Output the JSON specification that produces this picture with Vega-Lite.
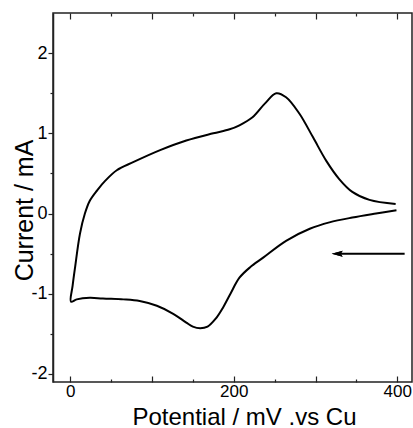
{
  "$schema": "https://vega.github.io/schema/vega-lite/v6.json",
  "width": 359,
  "height": 369,
  "autosize": {"type": "none"},
  "padding": {"left": 53, "top": 13, "right": 1, "bottom": 46},
  "background": "white",
  "config": {
    "view": {"stroke": "#222", "strokeWidth": 1.5},
    "axis": {
      "labelFont": "Liberation Sans",
      "titleFont": "Liberation Sans",
      "labelColor": "black",
      "titleColor": "black",
      "domainColor": "#222",
      "domainWidth": 1.5,
      "tickColor": "#222",
      "tickWidth": 1.2,
      "grid": false,
      "titleFontWeight": "normal"
    }
  },
  "datasets": {
    "cv": [
      {"k": 1, "E": 399, "I": 0.04},
      {"k": 2, "E": 374, "I": 0.0},
      {"k": 3, "E": 345, "I": -0.05},
      {"k": 4, "E": 317, "I": -0.11},
      {"k": 5, "E": 293, "I": -0.19},
      {"k": 6, "E": 264, "I": -0.34},
      {"k": 7, "E": 236, "I": -0.55},
      {"k": 8, "E": 220, "I": -0.67},
      {"k": 9, "E": 207, "I": -0.8},
      {"k": 10, "E": 196, "I": -1.0},
      {"k": 11, "E": 187, "I": -1.17},
      {"k": 12, "E": 178, "I": -1.31},
      {"k": 13, "E": 168, "I": -1.41},
      {"k": 14, "E": 159, "I": -1.43},
      {"k": 15, "E": 150, "I": -1.41},
      {"k": 16, "E": 142, "I": -1.36},
      {"k": 17, "E": 126, "I": -1.25},
      {"k": 18, "E": 106, "I": -1.15},
      {"k": 19, "E": 85, "I": -1.09},
      {"k": 20, "E": 65, "I": -1.07},
      {"k": 21, "E": 40, "I": -1.06},
      {"k": 22, "E": 24, "I": -1.05},
      {"k": 23, "E": 8, "I": -1.07},
      {"k": 24, "E": 1, "I": -1.1},
      {"k": 25, "E": 3, "I": -0.9},
      {"k": 26, "E": 6, "I": -0.67},
      {"k": 27, "E": 12, "I": -0.25},
      {"k": 28, "E": 18, "I": 0.0},
      {"k": 29, "E": 24, "I": 0.16},
      {"k": 30, "E": 33, "I": 0.29},
      {"k": 31, "E": 43, "I": 0.41},
      {"k": 32, "E": 57, "I": 0.54},
      {"k": 33, "E": 77, "I": 0.64},
      {"k": 34, "E": 110, "I": 0.79},
      {"k": 35, "E": 142, "I": 0.91},
      {"k": 36, "E": 175, "I": 1.0},
      {"k": 37, "E": 195, "I": 1.05},
      {"k": 38, "E": 207, "I": 1.1},
      {"k": 39, "E": 223, "I": 1.2},
      {"k": 40, "E": 238, "I": 1.37},
      {"k": 41, "E": 252, "I": 1.5},
      {"k": 42, "E": 264, "I": 1.45},
      {"k": 43, "E": 280, "I": 1.25},
      {"k": 44, "E": 297, "I": 0.95},
      {"k": 45, "E": 313, "I": 0.66},
      {"k": 46, "E": 329, "I": 0.43},
      {"k": 47, "E": 345, "I": 0.27},
      {"k": 48, "E": 366, "I": 0.17},
      {"k": 49, "E": 398, "I": 0.12}
    ],
    "arrow": [{"x0": 409, "x1": 328, "xh": 326.5, "y": -0.5}]
  },
  "layer": [
    {
      "data": {"name": "cv"},
      "mark": {"type": "line", "stroke": "black", "strokeWidth": 2, "interpolate": "catmull-rom"},
      "encoding": {
        "x": {
          "field": "E",
          "type": "quantitative",
          "scale": {"domain": [-21, 418], "nice": false, "zero": false},
          "axis": {
            "orient": "bottom",
            "title": "Potential / mV .vs Cu",
            "values": [0, 100, 200, 300, 400],
            "labelExpr": "datum.value % 200 === 0 ? datum.label : ''",
            "labelFontSize": 17,
            "labelFlush": false,
            "labelOverlap": false,
            "labelPadding": 1,
            "domain": false,
            "offset": -6,
            "tickSize": 6,
            "titleFontSize": 24,
            "titleX": 191,
            "titleY": 48,
            "titleBaseline": "alphabetic",
            "titleAnchor": "middle"
          }
        },
        "y": {
          "field": "I",
          "type": "quantitative",
          "scale": {"domain": [-2.1, 2.5], "nice": false, "zero": false},
          "axis": {
            "orient": "left",
            "title": "Current / mA",
            "values": [-2, -1.5, -1, -0.5, 0, 0.5, 1, 1.5, 2],
            "labelExpr": "datum.value % 1 === 0 ? '' + datum.value : ''",
            "labelFontSize": 18,
            "labelFlush": false,
            "labelOverlap": false,
            "labelPadding": 1,
            "tickSize": {"condition": {"test": "datum.value % 1 === 0", "value": 5}, "value": 3},
            "titleFontSize": 25,
            "titleX": -21,
            "titleY": 197,
            "titleAngle": 270,
            "titleBaseline": "alphabetic",
            "titleAlign": "center"
          }
        },
        "order": {"field": "k", "type": "quantitative"}
      }
    },
    {
      "data": {"name": "arrow"},
      "mark": {"type": "rule", "stroke": "black", "strokeWidth": 2},
      "encoding": {
        "x": {
          "field": "x0",
          "type": "quantitative",
          "scale": {"domain": [-21, 418], "nice": false, "zero": false},
          "axis": {
            "orient": "top",
            "title": null,
            "values": [0, 100, 200, 300, 400],
            "labels": false,
            "domain": false,
            "offset": -6,
            "tickSize": 6
          }
        },
        "x2": {"field": "x1"},
        "y": {"field": "y", "type": "quantitative", "scale": {"domain": [-2.1, 2.5], "nice": false, "zero": false}}
      }
    },
    {
      "data": {"name": "arrow"},
      "mark": {"type": "point", "shape": "M -1 0 L 1 -0.55 L 0.65 0 L 1 0.55 Z", "filled": true, "fill": "black", "strokeWidth": 0, "opacity": 1, "size": 121},
      "encoding": {
        "x": {
          "field": "xh",
          "type": "quantitative",
          "scale": {"domain": [-21, 418], "nice": false, "zero": false},
          "axis": {
            "orient": "bottom",
            "title": null,
            "values": [50, 150, 250, 350],
            "labels": false,
            "domain": false,
            "offset": -3,
            "tickSize": 3
          }
        },
        "y": {"field": "y", "type": "quantitative", "scale": {"domain": [-2.1, 2.5], "nice": false, "zero": false}}
      }
    },
    {
      "data": {"name": "arrow"},
      "mark": {"type": "point", "shape": "M -1 0 L 1 -0.55 L 0.65 0 L 1 0.55 Z", "filled": true, "fill": "black", "strokeWidth": 0, "opacity": 1, "size": 121},
      "encoding": {
        "x": {
          "field": "xh",
          "type": "quantitative",
          "scale": {"domain": [-21, 418], "nice": false, "zero": false},
          "axis": {
            "orient": "top",
            "title": null,
            "values": [50, 150, 250, 350],
            "labels": false,
            "domain": false,
            "offset": -3,
            "tickSize": 3
          }
        },
        "y": {"field": "y", "type": "quantitative", "scale": {"domain": [-2.1, 2.5], "nice": false, "zero": false}}
      }
    }
  ],
  "resolve": {"axis": {"x": "independent"}}
}
